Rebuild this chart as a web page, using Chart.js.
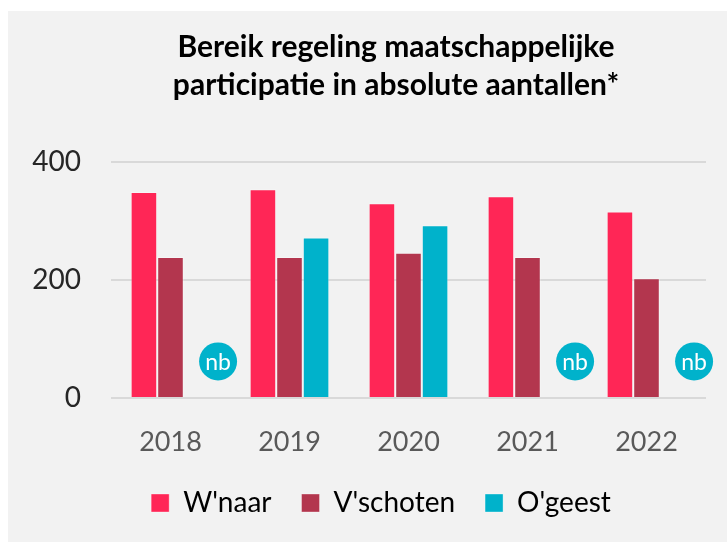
<!DOCTYPE html>
<html>
<head>
<meta charset="utf-8">
<script src="https://cdn.jsdelivr.net/npm/chart.js@4"></script>
<style>
  html, body { margin: 0; padding: 0; background: #ffffff; overflow: hidden; }
  #wrap { position: absolute; left: 8px; top: 11px; width: 719px; height: 531px; background: #f2f2f2; }
</style>
</head>
<body>
<div id="wrap"><canvas id="chart"></canvas></div>
<script>
const years = ['2018', '2019', '2020', '2021', '2022'];
const wnaar = [349, 354, 330, 342, 316];
const vschoten = [239, 239, 246, 239, 203];
const ogeest = [null, 272, 293, null, null];
const yTicks = [0, 200, 400];
const nbLevel = 62; // where the "nb" (niet bekend) badge sits

const FONT = 'Lato, "Liberation Sans", sans-serif';

// title and legend sit a bit right of the canvas centre in the original
const shiftPlugin = {
    id: 'shiftBoxes',
    afterLayout(chart) {
        chart.titleBlock.left += 39;
        chart.titleBlock.right += 39;
        chart.legend.left += 24;
        chart.legend.right += 24;
    }
};

const nbPlugin = {
    id: 'nbBadges',
    afterDatasetsDraw(chart) {
        const ctx = chart.ctx;
        const meta = chart.getDatasetMeta(2);
        const xScale = chart.scales.x;
        const yScale = chart.scales.y;
        const step = xScale.getPixelForValue(1) - xScale.getPixelForValue(0);
        ogeest.forEach((v, i) => {
            if (v !== null) return;
            let x = meta.data[i] && isFinite(meta.data[i].x) ? meta.data[i].x : xScale.getPixelForValue(i) + step * 0.67 / 3;
            x += 21;
            const y = yScale.getPixelForValue(nbLevel);
            ctx.save();
            ctx.beginPath();
            ctx.arc(x, y, 19, 0, Math.PI * 2);
            ctx.fillStyle = '#00b2cb';
            ctx.fill();
            ctx.fillStyle = '#ffffff';
            ctx.font = '23px ' + FONT;
            ctx.textAlign = 'center';
            ctx.textBaseline = 'middle';
            ctx.fillText('nb', x, y + 1);
            ctx.restore();
        });
    }
};

new Chart(document.getElementById('chart'), {
    type: 'bar',
    data: {
        labels: years,
        datasets: [
            { label: "W'naar", data: wnaar, backgroundColor: '#ff2656' },
            { label: "V'schoten", data: vschoten, backgroundColor: '#b3364e' },
            { label: "O'geest", data: ogeest, backgroundColor: '#00b2cb' }
        ]
    },
    options: {
        responsive: true,
        maintainAspectRatio: false,
        animation: false,
        layout: { padding: { left: 0, right: 21, top: 0, bottom: 15 } },
        datasets: {
            bar: {
                barPercentage: 1,
                categoryPercentage: 0.67,
                borderWidth: 1,
                borderColor: 'rgba(255,255,255,0.35)'
            }
        },
        plugins: {
            title: {
                display: true,
                text: ['Bereik regeling maatschappelijke', 'participatie in absolute aantallen*'],
                color: '#000000',
                font: { family: FONT, size: 30, weight: 'bold', lineHeight: 1.267 },
                padding: { top: 17, bottom: 58 }
            },
            legend: {
                position: 'bottom',
                labels: {
                    color: '#000000',
                    font: { family: FONT, size: 28 },
                    boxWidth: 18,
                    boxHeight: 18,
                    padding: 30
                }
            },
            tooltip: { enabled: false }
        },
        scales: {
            x: {
                afterFit: s => { s.height = 61; },
                grid: { display: false },
                border: { display: false },
                ticks: { color: '#595959', font: { family: FONT, size: 27 }, padding: 20 }
            },
            y: {
                min: 0,
                max: 400,
                afterBuildTicks: s => { s.ticks = yTicks.map(v => ({ value: v })); },
                afterFit: s => { s.width = 103; },
                grid: { color: '#d9d9d9', lineWidth: 2, drawTicks: false },
                border: { display: false },
                ticks: { color: '#262626', font: { family: FONT, size: 28 }, padding: 30 }
            }
        }
    },
    plugins: [nbPlugin, shiftPlugin]
});
</script>
</body>
</html>
